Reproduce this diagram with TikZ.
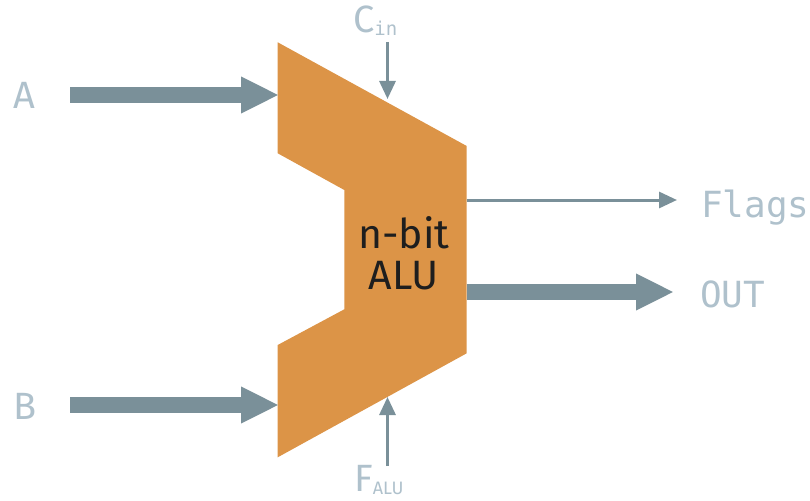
\documentclass[tikz,border=0pt]{standalone}
\usepackage{fontspec}
\setmainfont{Fira Sans}
\newfontfamily\monofont{DejaVu Sans Mono}
\usetikzlibrary{arrows.meta}
\definecolor{alu}{HTML}{DC9447}
\definecolor{wire}{HTML}{7A9099}
\definecolor{lbl}{HTML}{AFC1CC}
\definecolor{ink}{HTML}{1E1E1E}
\tikzset{
  bus/.style={draw=wire, line width=16pt, -{Triangle[length=38pt,width=34pt]}},
  sig/.style={draw=wire, line width=3pt, -{Triangle[length=18pt,width=16pt]}},
  lab/.style={text=lbl, font=\fontsize{38}{42}\selectfont, inner sep=0pt},
  mlab/.style={text=lbl, font=\monofont\fontsize{36}{40}\selectfont, inner sep=0pt, anchor=base west},
}
\begin{document}
\begin{tikzpicture}[x=1pt,y=-1pt]
\useasboundingbox (0,0) rectangle (810,500);
% ALU body
\fill[alu] (277.7,42.3) -- (466.7,146) -- (466.7,353.3) -- (277.7,457.3) -- (277.7,345)
  -- (344.3,309.3) -- (344.3,190) -- (277.7,153.3) -- cycle;
\node[text=ink, font=\fontsize{41}{44}\selectfont, align=center, inner sep=0pt] (alutext) at (404,253) {n-bit\\[-3pt]ALU};
% ports
\coordinate (ain) at (279,95);
\coordinate (bin) at (279,405);
\coordinate (cin) at (387.5,99);
\coordinate (fin) at (387.5,397);
\coordinate (flagsout) at (466.7,200);
\coordinate (outout) at (466.7,292);
\coordinate (astart) at (70,95);
\coordinate (bstart) at (70,405);
\coordinate (cstart) at (387.5,42);
\coordinate (fstart) at (387.5,466);
\coordinate (flagsend) at (677,200);
\coordinate (outend) at (674,292);
% labels
\node[lab, anchor=base west] (A) at (13,109) {A};
\node[lab, anchor=base west] (B) at (13,419) {B};
\node[lab, anchor=base west] (C) at (353,33) {C\raisebox{-3pt}{\monofont\fontsize{19}{20}\selectfont in}};
\node[lab, anchor=base west] (F) at (354,491) {F\raisebox{-3pt}{\fontsize{18}{20}\selectfont ALU}};
\node[mlab] (Flags) at (701,217) {Flags};
\node[mlab] (OUT) at (700,307) {OUT};
% wires
\draw[bus] (astart) -- (ain);
\draw[bus] (bstart) -- (bin);
\draw[bus] (outout) -- (outend);
\draw[sig] (flagsout) -- (flagsend);
\draw[sig] (cstart) -- (cin);
\draw[sig] (fstart) -- (fin);
\end{tikzpicture}
\end{document}
